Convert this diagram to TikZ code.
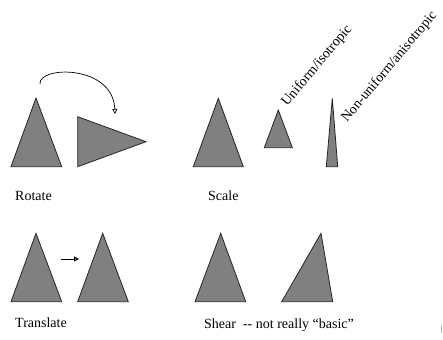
\documentclass[tikz,border=0pt]{standalone}
\usepackage{fontspec}
\setmainfont{Liberation Serif}
\usetikzlibrary{arrows.meta}
\tikzset{
  tri/.style={fill=black!50, draw=black!85, line width=0.8pt, line join=miter},
  lbl/.style={font=\fontsize{14}{16}\selectfont, inner sep=0pt},
  slbl/.style={lbl, anchor=base west, rotate=50},
  move/.style={line width=0.7pt, -{Triangle[open, length=5pt, width=5pt]}},
}
\begin{document}
\begin{tikzpicture}[x=1pt, y=-1pt]
  \useasboundingbox (0,0) rectangle (443,339);

  % Rotate
  \draw[tri] (36,98) -- (61.7,166.7) -- (11,166.7) -- cycle;
  \draw[tri] (77.7,116.7) -- (146,141.7) -- (77.7,166.7) -- cycle;
  \coordinate (rotA) at (40,84);
  \coordinate (rotB) at (115,114);
  \draw[move] (rotA) .. controls (38,66) and (113,64) .. (rotB);
  \node[lbl, anchor=base west] (rot) at (15,200) {Rotate};

  % Scale
  \draw[tri] (218.3,98.3) -- (243.3,166.7) -- (193.3,166.7) -- cycle;
  \draw[tri] (278.3,110) -- (292.3,147.7) -- (264.3,147.7) -- cycle;
  \draw[tri] (332.3,98.3) -- (337.7,166.7) -- (326.3,166.7) -- cycle;
  \node[lbl, anchor=base west] (scl) at (208,200) {Scale};
  \node[slbl] (uni) at (287,107) {Uniform/isotropic};
  \node[slbl] (nonuni) at (347,123) {Non-uniform/anisotropic};

  % Translate
  \draw[tri] (36,233.3) -- (61.7,301.7) -- (11,301.7) -- cycle;
  \draw[tri] (102.7,233.3) -- (128.3,301.7) -- (77.7,301.7) -- cycle;
  \coordinate (trA) at (61,259);
  \coordinate (trB) at (79,259);
  \draw[move, line width=1pt] (trA) -- (trB);
  \node[lbl, anchor=base west] (tr) at (15,327) {Translate};

  % Shear
  \draw[tri] (220.7,233.3) -- (245.7,301.7) -- (195,301.7) -- cycle;
  \draw[tri] (321,233.3) -- (332.7,301.7) -- (281.7,301.7) -- cycle;
  \node[lbl, anchor=base west] (sh) at (204,328) {Shear\ \ {-}{-} not really ``basic''};

  % small mark at the lower right
  \fill[black!30] (440.8,326) rectangle (442.3,333);
\end{tikzpicture}
\end{document}
